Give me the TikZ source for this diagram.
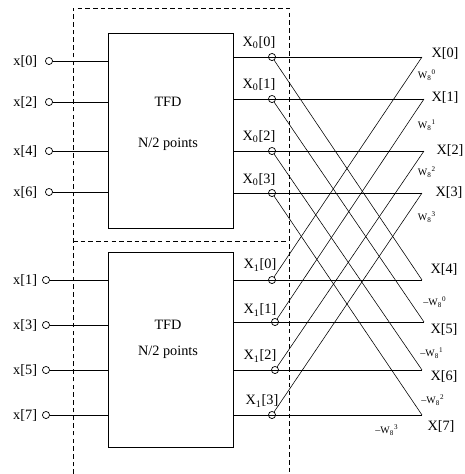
\documentclass[tikz,border=0pt]{standalone}
\usepackage{fontspec}
\setmainfont{Liberation Serif}
\usetikzlibrary{positioning}

\begin{document}
\begin{tikzpicture}[x=0.7pt,y=-0.7pt,
  blk/.style={draw,line width=0.5pt,minimum width=87.5pt,minimum height=136.5pt,inner sep=0pt},
  pin/.style={circle,draw,line width=0.5pt,minimum size=5pt,inner sep=0pt},
  hl/.style={line width=0.6pt},
  dl/.style={line width=0.4pt},
  frame/.style={dash pattern=on 3.2pt off 2.2pt,line width=0.5pt},
  wt/.style={font=\scriptsize,inner sep=0pt}]
  \useasboundingbox (0,0) rectangle (464,474);
  % dashed frame round the two half-size transforms
  \coordinate (f1) at (73,8);
  \coordinate (f2) at (289,8);
  \coordinate (f3) at (73,474);
  \coordinate (f4) at (289,474);
  \coordinate (m1) at (73,241);
  \coordinate (m2) at (289,241);
  \draw[frame] (f3) -- (f1) -- (f2) -- (f4) (m1) -- (m2);
  % the two blocks
  \node[blk] (tfdA) at (170.5,130.5) {};
  \node[blk] (tfdB) at (170.5,349.5) {};
  \node (tA) at (168,102) {TFD};
  \node (nA) at (168,144) {N/2 points};
  \node (tB) at (168,325) {TFD};
  \node (nB) at (168,352) {N/2 points};
  % even and odd inputs
  \foreach \n/\i/\y in {0/0/61,1/2/102,2/4/151,3/6/192} {
    \node[pin] (ia\n) at (49,\y) {};
    \node[left=2pt of ia\n] (lia\n) {x[\i]};
    \draw[hl] (ia\n) -- (ia\n -| tfdA.west);
  }
  \foreach \n/\i/\y in {0/1/280,1/3/325,2/5/370,3/7/415} {
    \node[pin] (ib\n) at (46,\y) {};
    \node[left=0pt of ib\n] (lib\n) {x[\i]};
    \draw[hl] (ib\n) -- (ib\n -| tfdB.west);
  }
  % end points of the butterflies
  \foreach \k/\x/\y in {0/422/57,1/424/99,2/424/151,3/422/193,4/422/280,5/424/322,6/422/370,7/422/415}
    \coordinate (e\k) at (\x,\y);
  % block outputs
  \foreach \n/\y in {0/57,1/99,2/151,3/193}
    \node[pin] (oa\n) at (272,\y) {};
  \foreach \n/\x/\y in {0/272/280,1/275/322,2/275/370,3/272/415}
    \node[pin] (ob\n) at (\x,\y) {};
  \foreach \n/\m in {0/4,1/5,2/6,3/7} {
    \draw[hl] (oa\n -| tfdA.east) -- (e\n);
    \draw[hl] (ob\n -| tfdB.east) -- (e\m);
    \draw[dl] (oa\n) -- (e\m);
    \draw[dl] (ob\n) -- (e\n);
  }
  \foreach \n/\y in {0/43,1/85,2/137,3/180}
    \node (la\n) at (259,\y) {X\textsubscript{0}[\n]};
  \foreach \n/\x/\y in {0/260/265,1/260/310,2/260/356,3/262/401}
    \node (lb\n) at (\x,\y) {X\textsubscript{1}[\n]};
  % outputs and twiddle factors
  \foreach \k/\x/\y in {0/445/53,1/445/97,2/450/150,3/449/192,4/444/269,5/444/329,6/444/376,7/441/426}
    \node (X\k) at (\x,\y) {X[\k]};
  \foreach \n/\y in {0/75,1/125,2/172,3/217}
    \node[wt] (w\n) at (427,\y) {W\textsubscript{8}\textsuperscript{\n}};
  \foreach \n/\x/\y in {0/435/302,1/432/353,2/433/400,3/387/430}
    \node[wt] (v\n) at (\x,\y) {--W\textsubscript{8}\textsuperscript{\n}};
\end{tikzpicture}
\end{document}
